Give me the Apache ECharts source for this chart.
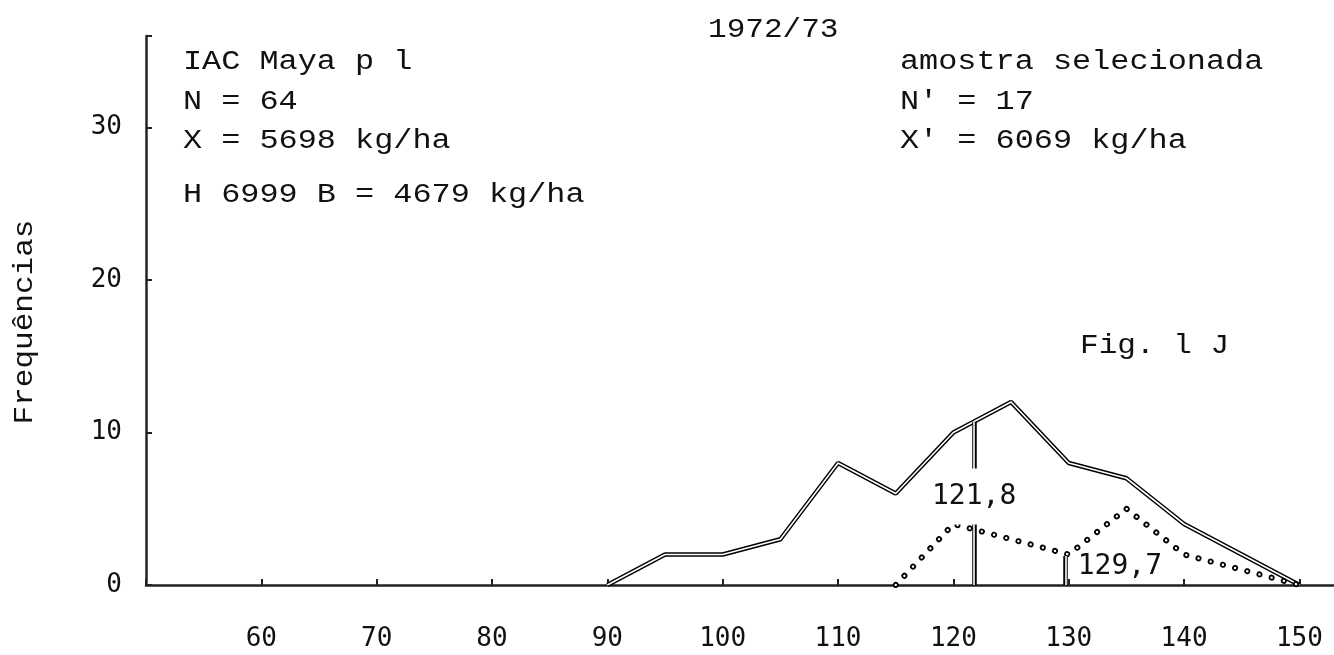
<!DOCTYPE html>
<html><head><meta charset="utf-8">
<script src="https://cdn.jsdelivr.net/npm/echarts@6/dist/echarts.min.js"></script>
<style>html,body{margin:0;padding:0;background:#fff}#c{width:1334px;height:655px}</style>
</head><body><div id="c"></div>
<script>
// ---- data ----
const classMids = [90, 95, 100, 105, 110, 115, 120, 125, 130, 135, 140, 145, 150];
const freqAll   = [0, 2, 2, 3, 8, 6, 10, 12, 8, 7, 4, 2, 0];          // N = 64
const selMids   = [115, 120, 125, 130, 135, 140, 145, 150];
const freqSel   = [0, 4, 3, 2, 5, 2, 1, 0];                           // N' = 17
const markX     = [121.8, 129.7];
const markTop   = [10.7, 1.9];
const markText  = ['121,8', '129,7'];
const markTextY = [5.8, 1.2];
const yTickVals = [0, 10, 20, 30];
const titleText = '1972/73';
const leftNotes  = ['IAC Maya p l', 'N = 64', 'X = 5698 kg/ha', 'H 6999 B = 4679 kg/ha'];
const rightNotes = ['amostra selecionada', "N' = 17", "X' = 6069 kg/ha"];
const figText   = 'Fig. l J';
const yName     = 'Frequências';

const TFONT = '"Liberation Mono", "DejaVu Sans Mono", monospace';
const NFONT = '"DejaVu Sans Mono", "Liberation Mono", monospace';

function txt(text, x, y, size, sx, extra) {
  return Object.assign({
    type: 'text', x: x, y: y, scaleX: sx || 1,
    style: { text: text, font: size + 'px ' + TFONT, fill: '#111',
             textAlign: 'left', textVerticalAlign: 'middle', align: 'left', verticalAlign: 'middle' }
  }, extra || {});
}

const graphics = [];
graphics.push(txt(titleText, 708, 30, 27, 1.15));
const leftY = [62, 102, 141, 195];
leftNotes.forEach((t, i) => graphics.push(txt(t, 183, leftY[i], 27, 1.18)));
const rightY = [62, 102, 141];
rightNotes.forEach((t, i) => graphics.push(txt(t, 900, rightY[i], 27, 1.18)));
graphics.push(txt(figText, 1080, 346, 27, 1.15));
graphics.push({
  type: 'text', x: 25, y: 322, rotation: Math.PI / 2, scaleX: 1.15,
  style: { text: yName, font: '27px ' + TFONT, fill: '#111',
           textAlign: 'center', textVerticalAlign: 'middle', align: 'center', verticalAlign: 'middle' }
});

const allData = classMids.map((x, i) => [x, freqAll[i]]);
const selData = selMids.map((x, i) => [x, freqSel[i]]);
const vLines = markX.map((x, i) => [{ coord: [x, 0] }, { coord: [x, markTop[i]] }]);

const chart = echarts.init(document.getElementById('c'));
chart.setOption({
  animation: false,
  backgroundColor: '#fff',
  grid: { left: 146, right: 0, top: 36, bottom: 70 },
  xAxis: {
    type: 'value', min: 50, max: 153, interval: 10,
    axisLine: { lineStyle: { color: '#222', width: 2.5 } },
    axisTick: { inside: true, length: 6, lineStyle: { color: '#222', width: 2 } },
    axisLabel: { margin: 41, color: '#111', fontFamily: NFONT, fontSize: 26,
                 formatter: v => (v === 50 ? '' : String(v)) },
    splitLine: { show: false }
  },
  yAxis: {
    type: 'value', min: 0, max: 36, interval: 10,
    axisLine: { show: true, lineStyle: { color: '#222', width: 2.5 } },
    axisTick: { show: true, inside: true, length: 6, lineStyle: { color: '#222', width: 2 } },
    axisLabel: { margin: 24, color: '#111', fontFamily: NFONT, fontSize: 26,
                 formatter: v => (yTickVals.indexOf(v) >= 0 ? String(v) : '') },
    splitLine: { show: false }
  },
  series: [
    { type: 'line', data: allData, symbol: 'none', z: 2,
      lineStyle: { color: '#000', width: 4.5 },
      markLine: { silent: true, z: 5, symbol: ['none', 'none'], label: { show: false },
                  lineStyle: { color: '#000', width: 4.5, type: 'solid' }, data: vLines } },
    { type: 'line', data: allData, symbol: 'none', z: 3,
      lineStyle: { color: '#fff', width: 1.6 },
      markLine: { silent: true, z: 6, symbol: ['none', 'none'], label: { show: false },
                  lineStyle: { color: '#fff', width: 1.6, type: 'solid' }, data: vLines } },
    { type: 'line', data: selData, symbol: 'none', z: 4,
      lineStyle: { color: '#000', width: 6, type: [0.1, 12.5], cap: 'round' } },
    { type: 'line', data: selData, symbol: 'none', z: 4,
      lineStyle: { color: '#fff', width: 2.4, type: [0.1, 12.5], cap: 'round' } },
    { type: 'scatter', z: 10, symbolSize: 1, itemStyle: { color: 'rgba(0,0,0,0)', opacity: 1 },
      emphasis: { disabled: true },
      data: [
        { value: [markX[0], markTextY[0]],
          label: { show: true, position: 'inside', formatter: markText[0], backgroundColor: '#fff',
                   padding: [15, 0, 13, 0], color: '#111', opacity: 1, fontFamily: NFONT, fontSize: 28 } },
        { value: [markX[1], markTextY[1]],
          label: { show: true, position: 'right', distance: 12, formatter: markText[1],
                   color: '#111', opacity: 1, fontFamily: NFONT, fontSize: 28 } }
      ] }
  ],
  graphic: { elements: graphics }
});
</script>
</body></html>
